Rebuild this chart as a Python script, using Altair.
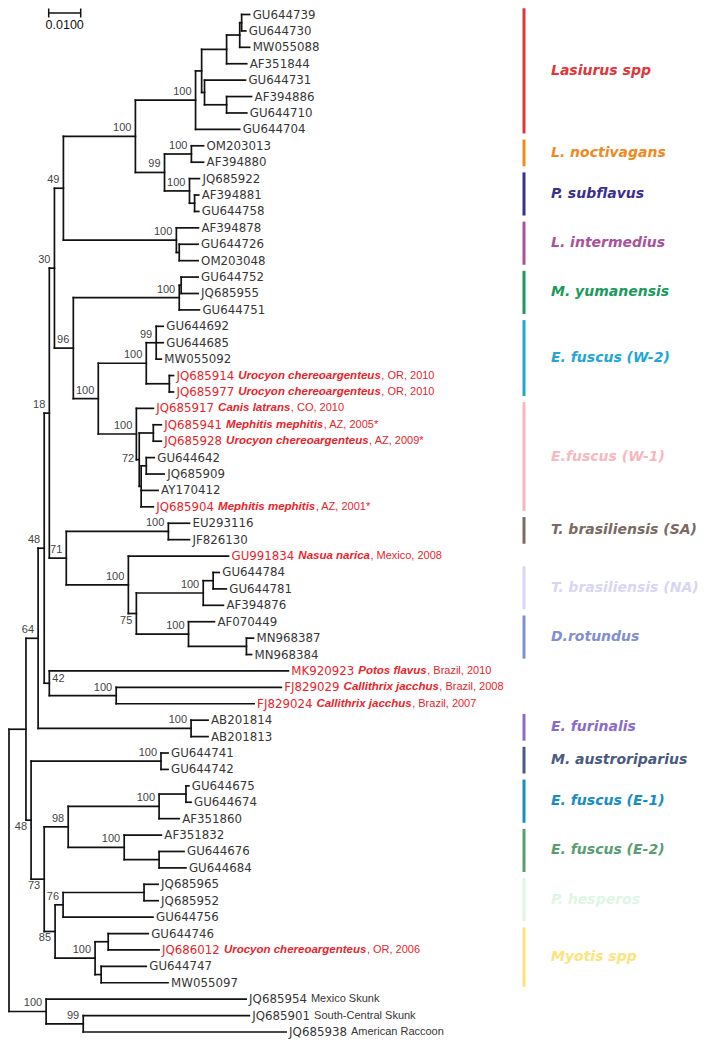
import altair as alt
import pandas as pd

# ---------------- data: tree (Newick, branch lengths in substitutions/site) ----------------
LASIURUS = ("(((((GU644739:0.0025,GU644730:0.0013):0.0006,MW055088:0.0031):0.0041,"
            "AF351844:0.0063):0.0078,(GU644731:0.0128,(AF394886:0.0078,GU644710:0.0063):0.0069):0.0009):0.0019,"
            "GU644704:0.0138)100:0.0188")
NOCT_SUBFLAVUS = ("((OM203013:0.0038,AF394880:0.0038)100:0.0084,"
                  "(JQ685922:0.0031,(AF394881:0.0013,GU644758:0.0013):0.0016)100:0.0078)99:0.0091")
INTERMEDIUS = "(AF394878:0.0069,(GU644726:0.0059,OM203048:0.0059):0.0009)100:0.0353"
YUMANENSIS = "((GU644752:0.0053,JQ685955:0.0053):0.0006,GU644751:0.0063)100:0.0331"
FUSCUS_W2 = ("((GU644692:0.0022,GU644685:0.0022,MW055092:0.0016)99:0.0031,"
             "(JQ685914:0.0013,JQ685977:0.0013):0.0072)100:0.0150")
FUSCUS_W1 = ("(JQ685917:0.0053,((JQ685941:0.0025,JQ685928:0.0025):0.0044,"
             "((GU644642:0.0025,JQ685909:0.0056):0.0016,AY170412:0.0053,JQ685904:0.0038):0.0006)72:0.0009)100:0.0119")
TADARIDA_DESMODUS = ("((EU293116:0.0066,JF826130:0.0066)100:0.0319,(GU991834:0.0313,"
                     "(((GU644784:0.0019,GU644781:0.0041):0.0031,AF394876:0.0063)100:0.0209,"
                     "(AF070449:0.0081,(MN968387:0.0022,MN968384:0.0016):0.0181)100:0.0163)75:0.0025)100:0.0194)71:0.0053")
CALLITHRIX = "(MK920923:0.0747,(FJ829029:0.0516,FJ829024:0.0431)100:0.0209)42:0.0016"
FURINALIS = "(AB201814:0.0053,AB201813:0.0053)100:0.0478"
AUSTRORIPARIUS = "(GU644741:0.0022,GU644742:0.0022)100:0.0406"
FUSCUS_EAST = ("(((GU644675:0.0009,GU644674:0.0016):0.0084,AF351860:0.0063)100:0.0284,"
               "(AF351832:0.0116,(GU644676:0.0078,GU644684:0.0084):0.0109)100:0.0175)98:0.0075")
MYOTIS = ("(((JQ685965:0.0044,JQ685952:0.0044):0.0253,GU644756:0.0281)76:0.0025,"
          "((GU644746:0.0125,JQ686012:0.0159):0.0041,(GU644747:0.0141,MW055097:0.0209):0.0019)100:0.0125)85:0.0034")
OUTGROUP = "(JQ685954:0.0625,(JQ685901:0.0519,JQ685938:0.0634)99:0.0116)100:0.0116"

N49 = "((" + LASIURUS + "," + NOCT_SUBFLAVUS + ")100:0.0225," + INTERMEDIUS + ")49:0.0028"
N96 = "(" + YUMANENSIS + ",(" + FUSCUS_W2 + "," + FUSCUS_W1 + ")100:0.0078)96:0.0059"
N18 = "((" + N49 + "," + N96 + ")30:0.0016," + TADARIDA_DESMODUS + ")18:0.0016"
N64 = "((" + N18 + "," + CALLITHRIX + ")48:0.0019," + FURINALIS + ")64:0.0038"
N48B = "(" + AUSTRORIPARIUS + ",(" + FUSCUS_EAST + "," + MYOTIS + ")73:0.0041)48:0.0016"
NEWICK = "((" + N64 + "," + N48B + "):0.0053," + OUTGROUP + ");"

# animal-origin sequences (red) and their annotations
RED_LEAVES = ["JQ685914", "JQ685977", "JQ685917", "JQ685941", "JQ685928", "JQ685904",
              "GU991834", "MK920923", "FJ829029", "FJ829024", "JQ686012"]
HOST_SPECIES = ["Urocyon chereoargenteus", "Urocyon chereoargenteus", "Canis latrans",
                "Mephitis mephitis", "Urocyon chereoargenteus", "Mephitis mephitis",
                "Nasua narica", "Potos flavus", "Callithrix jacchus", "Callithrix jacchus",
                "Urocyon chereoargenteus"]
HOST_PLACE = [", OR, 2010", ", OR, 2010", ", CO, 2010", ", AZ, 2005*", ", AZ, 2009*", ", AZ, 2001*",
              ", Mexico, 2008", ", Brazil, 2010", ", Brazil, 2008", ", Brazil, 2007", ", OR, 2006"]
OUTGROUP_LEAVES = ["JQ685954", "JQ685901", "JQ685938"]
OUTGROUP_NAMES = ["Mexico Skunk", "South-Central Skunk", "American Raccoon"]

# lineage groups: name, first leaf, last leaf, colour
GROUP_NAMES = ["Lasiurus spp", "L. noctivagans", "P. subflavus", "L. intermedius", "M. yumanensis",
               "E. fuscus (W-2)", "E.fuscus (W-1)", "T. brasiliensis (SA)", "T. brasiliensis (NA)",
               "D.rotundus", "E. furinalis", "M. austroriparius", "E. fuscus (E-1)", "E. fuscus (E-2)",
               "P. hesperos", "Myotis spp"]
GROUP_FIRST = ["GU644739", "OM203013", "JQ685922", "AF394878", "GU644752", "GU644692", "JQ685917",
               "EU293116", "GU644784", "AF070449", "AB201814", "GU644741", "GU644675", "AF351832",
               "JQ685965", "GU644746"]
GROUP_LAST = ["GU644704", "AF394880", "GU644758", "OM203048", "GU644751", "JQ685977", "JQ685904",
              "JF826130", "AF394876", "MN968384", "AB201813", "GU644742", "AF351860", "GU644684",
              "GU644756", "MW055097"]
GROUP_COLORS = ["#e0363a", "#f08a1e", "#3b2f8f", "#a8529c", "#1b9a5c", "#22a6d8", "#f8b7c0",
                "#7a6a62", "#d9d5f5", "#7f8fd2", "#8a6cc8", "#4a5a82", "#178cc6", "#5a9e70",
                "#dff5e6", "#fbe47c"]

SCALE_LEN = 0.01
SCALE_TEXT = "0.0100"

# ---------------- layout / style constants ----------------
W, H = 692, 1033
PX = 3200.0           # pixels per unit branch length
ROOT_PX = 1.0
ROW0, ROW_LAST = 6.5, 1024.0
LINE = "#111111"
LEAF_COL = "#363636"
RED = "#e8242b"
BOOT_COL = "#444444"
ID_SIZE, SP_SIZE, PL_SIZE = 11.8, 11.5, 11
LABEL_POS = {("GU644741", "MW055097"): "below", ("GU644675", "MW055097"): "below",
             ("JQ685965", "MW055097"): "below", ("GU644784", "MN968384"): "below",
             ("JQ685941", "JQ685904"): "middle", ("MK920923", "FJ829024"): "right"}

# approximate advance widths (em) used to chain text pieces on one line
DJV = {**{c: 0.636 for c in "0123456789"}, "A": .684, "B": .686, "E": .632, "F": .575, "G": .775,
       "J": .295, "K": .656, "M": .863, "N": .748, "O": .787, "Q": .787, "U": .732, "W": .989,
       "Y": .611, " ": .318}
ARIAL_BOLD = {"a": .556, "b": .611, "c": .556, "d": .611, "e": .556, "f": .333, "g": .611, "h": .611,
              "i": .278, "j": .278, "k": .556, "l": .278, "m": .889, "n": .611, "o": .611, "p": .611,
              "q": .611, "r": .389, "s": .556, "t": .333, "u": .611, "v": .556, "w": .778, "x": .556,
              "y": .556, "z": .5, "C": .722, "M": .833, "N": .722, "P": .667, "U": .722, " ": .278}


def text_w(s, table, size):
    return sum(table.get(ch, 0.6) for ch in s) * size


def parse_newick(text):
    s = "".join(text.split()).rstrip(";")
    pos = 0

    def node():
        nonlocal pos
        n = {"children": [], "name": "", "length": 0.0}
        if s[pos] == "(":
            pos += 1
            while True:
                n["children"].append(node())
                if s[pos] == ",":
                    pos += 1
                    continue
                pos += 1  # ')'
                break
        start = pos
        while pos < len(s) and s[pos] not in ",():":
            pos += 1
        n["name"] = s[start:pos]
        if pos < len(s) and s[pos] == ":":
            pos += 1
            start = pos
            while pos < len(s) and s[pos] not in ",()":
                pos += 1
            n["length"] = float(s[start:pos])
        return n

    return node()


tree = parse_newick(NEWICK)
nodes, leaves = [], []


def layout(n, parent_d):
    n["pd"] = parent_d
    n["d"] = parent_d + n["length"]
    if not n["children"]:
        n["y"] = float(len(leaves))
        n["first"] = n["last"] = n["name"]
        leaves.append(n)
    else:
        for c in n["children"]:
            layout(c, n["d"])
        n["y"] = (n["children"][0]["y"] + n["children"][-1]["y"]) / 2.0
        n["first"] = n["children"][0]["first"]
        n["last"] = n["children"][-1]["last"]
    nodes.append(n)


tree["length"] = 0.0
layout(tree, 0.0)
ROW = (ROW_LAST - ROW0) / (len(leaves) - 1)
leaf_y = {lf["name"]: lf["y"] for lf in leaves}

# branches
segs = []
for n in nodes:
    if n is not tree:
        segs.append({"x": n["pd"], "x2": n["d"], "y": n["y"], "y2": n["y"]})
    if n["children"]:
        segs.append({"x": n["d"], "x2": n["d"], "y": n["children"][0]["y"], "y2": n["children"][-1]["y"]})
seg_df = pd.DataFrame(segs)

# leaf labels
red_map = {k: (sp, pl) for k, sp, pl in zip(RED_LEAVES, HOST_SPECIES, HOST_PLACE)}
og_map = dict(zip(OUTGROUP_LEAVES, OUTGROUP_NAMES))
id_rows, sp_rows, pl_rows = [], [], []
for lf in leaves:
    name = lf["name"]
    x0 = lf["d"] + 3 / PX
    col = RED if name in red_map else LEAF_COL
    id_rows.append({"x": x0, "y": lf["y"], "t": name, "c": col})
    xd = lf["d"] + (3 + text_w(name, DJV, ID_SIZE) + 4) / PX
    if name in red_map:
        sp, pl = red_map[name]
        sp_rows.append({"x": xd, "y": lf["y"], "t": sp, "c": RED})
        pl_rows.append({"x": xd + (text_w(sp, ARIAL_BOLD, SP_SIZE) + 0.5) / PX, "y": lf["y"], "t": pl, "c": RED})
    elif name in og_map:
        pl_rows.append({"x": xd, "y": lf["y"], "t": og_map[name], "c": LEAF_COL})
id_df, sp_df, pl_df = pd.DataFrame(id_rows), pd.DataFrame(sp_rows), pd.DataFrame(pl_rows)

# bootstrap labels
boot_l, boot_r = [], []
for n in nodes:
    if n["children"] and n["name"]:
        where = LABEL_POS.get((n["first"], n["last"]), "above")
        if where == "right":
            boot_l.append({"x": n["d"] + 3 / PX, "y": n["y"] - 4 / ROW, "t": n["name"]})
        else:
            dy = {"above": -8, "below": 7, "middle": -1}[where]
            dx = -5 if where == "middle" else -4
            boot_r.append({"x": n["d"] + dx / PX, "y": n["y"] + dy / ROW, "t": n["name"]})
boot_l_df, boot_r_df = pd.DataFrame(boot_l), pd.DataFrame(boot_r)

# groups
grp_df = pd.DataFrame({
    "name": GROUP_NAMES,
    "c": GROUP_COLORS,
    "y0": [leaf_y[f] - 0.38 for f in GROUP_FIRST],
    "y1": [leaf_y[l] + 0.25 for l in GROUP_LAST],
})
grp_df["ym"] = (grp_df["y0"] + grp_df["y1"]) / 2

# scale bar
SCALE_X0 = 39.7 / PX
sb_df = pd.DataFrame({"x": [SCALE_X0], "x2": [SCALE_X0 + SCALE_LEN], "xm": [SCALE_X0 + SCALE_LEN / 2],
                      "t": [SCALE_TEXT]})

# ---------------- chart ----------------
xs = alt.Scale(domain=[-ROOT_PX / PX, (W - ROOT_PX) / PX], nice=False, zero=False)
ys = alt.Scale(domain=[-ROW0 / ROW, (H - ROW0) / ROW], nice=False, zero=False, reverse=True)
X = lambda f: alt.X(f, type="quantitative", scale=xs, axis=None)
Y = lambda f: alt.Y(f, type="quantitative", scale=ys, axis=None)

branches = alt.Chart(seg_df).mark_rule(color=LINE, strokeWidth=1.7, strokeCap="square").encode(
    x=X("x"), x2="x2", y=Y("y"), y2="y2")

ids = alt.Chart(id_df).mark_text(align="left", baseline="middle", font="DejaVu Sans",
                                 fontSize=ID_SIZE).encode(
    x=X("x"), y=Y("y"), text="t:N", color=alt.Color("c:N", scale=None))
species = alt.Chart(sp_df).mark_text(align="left", baseline="middle", font="Liberation Sans",
                                     fontSize=SP_SIZE, fontWeight="bold", fontStyle="italic").encode(
    x=X("x"), y=Y("y"), text="t:N", color=alt.Color("c:N", scale=None))
places = alt.Chart(pl_df).mark_text(align="left", baseline="middle", font="Liberation Sans",
                                    fontSize=PL_SIZE).encode(
    x=X("x"), y=Y("y"), text="t:N", color=alt.Color("c:N", scale=None))

boot_right = alt.Chart(boot_r_df).mark_text(align="right", baseline="middle", font="Liberation Sans",
                                            fontSize=11, fill=BOOT_COL).encode(
    x=X("x"), y=Y("y"), text="t:N")
boot_left = alt.Chart(boot_l_df).mark_text(align="left", baseline="middle", font="Liberation Sans",
                                           fontSize=11, fill=BOOT_COL).encode(
    x=X("x"), y=Y("y"), text="t:N")

grp_bars = alt.Chart(grp_df).mark_rule(strokeWidth=3).encode(
    x=alt.value(516), y=Y("y0"), y2="y1", color=alt.Color("c:N", scale=None))
grp_text = alt.Chart(grp_df).mark_text(align="left", baseline="middle", font="DejaVu Sans",
                                       fontSize=14, fontWeight="bold", fontStyle="italic").encode(
    x=alt.value(543), y=Y("ym"), text="name:N", color=alt.Color("c:N", scale=None))

sb_line = alt.Chart(sb_df).mark_rule(color=LINE, strokeWidth=1.5).encode(
    x=X("x"), x2="x2", y=alt.value(5))
sb_tick1 = alt.Chart(sb_df).mark_rule(color=LINE, strokeWidth=1.5).encode(
    x=X("x"), y=alt.value(0.5), y2=alt.value(9.5))
sb_tick2 = alt.Chart(sb_df).mark_rule(color=LINE, strokeWidth=1.5).encode(
    x=X("x2"), y=alt.value(0.5), y2=alt.value(9.5))
sb_text = alt.Chart(sb_df).mark_text(align="center", baseline="middle", font="Liberation Sans",
                                     fontSize=12.5, color="#111111").encode(
    x=X("xm"), y=alt.value(16.5), text="t:N")

chart = alt.layer(
    branches, ids, species, places, boot_right, boot_left, grp_bars, grp_text,
    sb_line, sb_tick1, sb_tick2, sb_text
).properties(
    width=W, height=H, padding=0, autosize="none", background="white"
).configure_view(stroke=None)

chart.save("out.html", embed_options={"renderer": "svg", "actions": False})
